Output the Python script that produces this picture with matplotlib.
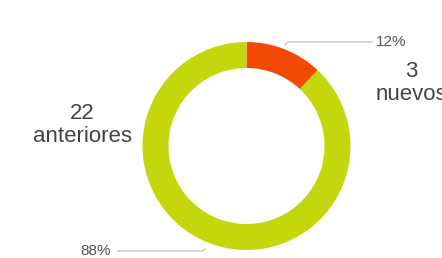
import matplotlib.pyplot as plt

# Data
categories = ["nuevos", "anteriores"]
counts = [3, 22]
colors = ["#f24a05", "#c4d70c"]

plt.rcParams['font.family'] = ['Liberation Sans', 'DejaVu Sans']

W, H = 442, 258
fig = plt.figure(figsize=(W / 100, H / 100), dpi=100)
ax = fig.add_axes([0, 0, 1, 1])

# donut (pixel-like coords, y up)
cx, cy, r = 246.5, 112, 104
ax.pie(counts, colors=colors, startangle=90, counterclock=False,
       center=(cx, cy), radius=r, frame=True,
       wedgeprops=dict(width=26, linewidth=0))

ax.set_xlim(0, W)
ax.set_ylim(0, H)
ax.set_aspect('auto')
ax.axis('off')

total = sum(counts)
pct = [round(100 * c / total) for c in counts]

# leader lines + percent labels
ax.plot([285, 288, 372], [H - 45, H - 42, H - 42], color='#c8c8c8', lw=1)
ax.text(376, H - 42, f"{pct[0]}%", ha='left', va='center', fontsize=11, color='#555555')
ax.plot([118, 202, 205], [H - 251, H - 251, H - 249], color='#c8c8c8', lw=1)
ax.text(111, H - 251, f"{pct[1]}%", ha='right', va='center', fontsize=11, color='#555555')

# category labels
ax.text(411, H - 83, f"{counts[0]}\n{categories[0]}", ha='center', va='center',
        fontsize=16, color='#444444', linespacing=1.15)
ax.text(82, H - 125, f"{counts[1]}\n{categories[1]}", ha='center', va='center',
        fontsize=16, color='#444444', linespacing=1.15)

fig.savefig('out.png', dpi=100)
plt.close()
